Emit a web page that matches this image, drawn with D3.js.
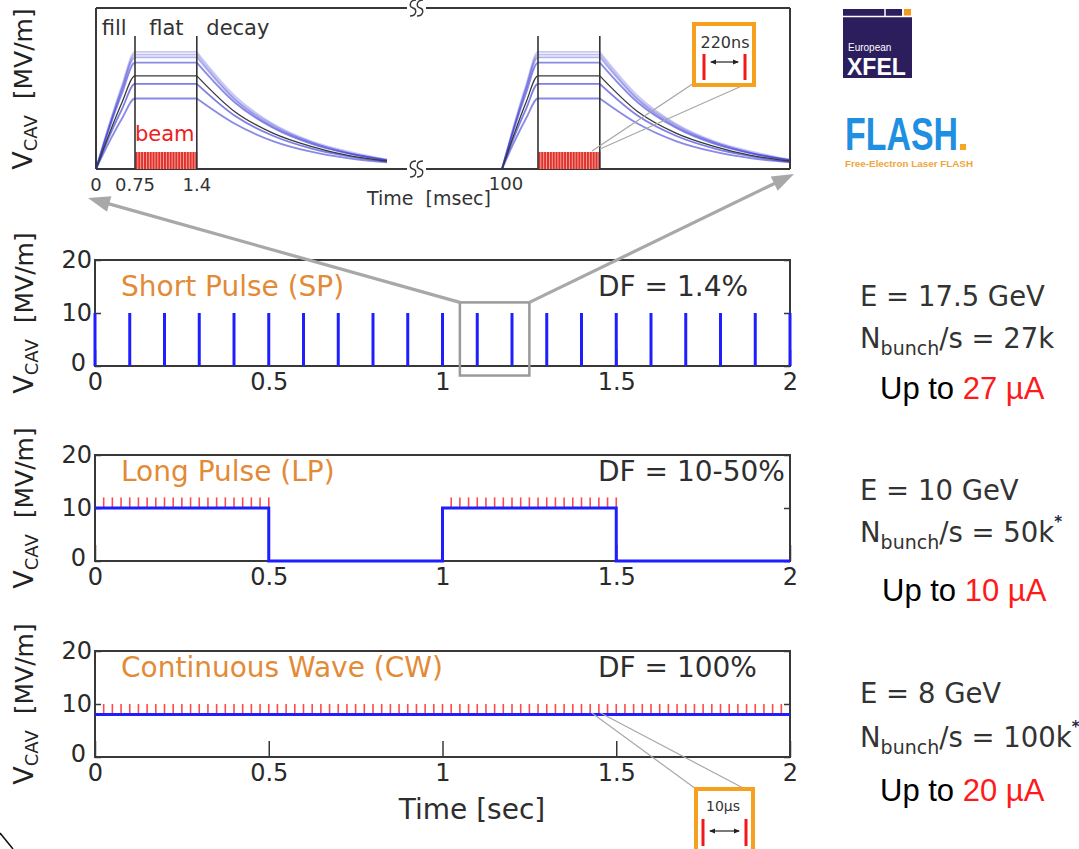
<!DOCTYPE html>
<html>
<head>
<meta charset="utf-8">
<script src="https://cdn.jsdelivr.net/npm/d3@7"></script>
<style>
  body { margin: 0; background: #fff; }
  svg { display: block; }
</style>
</head>
<body>
<svg id="svg1" width="1079" height="849"></svg>
<script>
// ---------- data ----------
// main panels: time axis [sec], cavity voltage [MV/m]
var xTicks = [0, 0.5, 1, 1.5, 2];
var xTickLabels = ['0', '0.5', '1', '1.5', '2'];
var yTicks = [0, 10, 20];

var spPulses = [0, 0.1, 0.2, 0.3, 0.4, 0.5, 0.6, 0.7, 0.8, 0.9, 1, 1.1, 1.2, 1.3, 1.4, 1.5, 1.6, 1.7, 1.8, 1.9, 2];
var spLevel = 10;

var lpTimes = [0, 0.5, 0.5, 1, 1, 1.5, 1.5, 2];
var lpValues = [10, 10, 0, 0, 10, 10, 0, 0];
var lpBunches = [0.025, 0.05, 0.075, 0.1, 0.125, 0.15, 0.175, 0.2, 0.225, 0.25,
  0.275, 0.3, 0.325, 0.35, 0.375, 0.4, 0.425, 0.45, 0.475, 0.5,
  1.025, 1.05, 1.075, 1.1, 1.125, 1.15, 1.175, 1.2, 1.225, 1.25,
  1.275, 1.3, 1.325, 1.35, 1.375, 1.4, 1.425, 1.45, 1.475, 1.5];
var lpBunchRange = [10, 12];

var cwTimes = [0, 2];
var cwValues = [8, 8];
var cwBunches = [0.025, 0.05, 0.075, 0.1, 0.125, 0.15, 0.175, 0.2, 0.225, 0.25,
  0.275, 0.3, 0.325, 0.35, 0.375, 0.4, 0.425, 0.45, 0.475, 0.5,
  0.525, 0.55, 0.575, 0.6, 0.625, 0.65, 0.675, 0.7, 0.725, 0.75,
  0.775, 0.8, 0.825, 0.85, 0.875, 0.9, 0.925, 0.95, 0.975, 1,
  1.025, 1.05, 1.075, 1.1, 1.125, 1.15, 1.175, 1.2, 1.225, 1.25,
  1.275, 1.3, 1.325, 1.35, 1.375, 1.4, 1.425, 1.45, 1.475, 1.5,
  1.525, 1.55, 1.575, 1.6, 1.625, 1.65, 1.675, 1.7, 1.725, 1.75,
  1.775, 1.8, 1.825, 1.85, 1.875, 1.9, 1.925, 1.95, 1.975];
var cwBunchRange = [8.2, 10];

var panelTitles = ['Short Pulse (SP)', 'Long Pulse (LP)', 'Continuous Wave (CW)'];
var dutyFactors = ['DF = 1.4%', 'DF = 10-50%', 'DF = 100%'];
var energies = ['E = 17.5 GeV', 'E = 10 GeV', 'E = 8 GeV'];
var bunchRates = ['27k', '50k', '100k'];
var rateStars = [false, true, true];
var currents = ['27 µA', '10 µA', '20 µA'];

// top panel: time [msec], relative cavity voltage
var pulseStarts = [0, 100];
var fillTimes = [0, 0.25, 0.5, 0.75];
var flatEnd = 1.4;
var decayTimes = [1.4, 1.8, 2.2, 2.6, 3.0, 3.4];
var blueFill = [
  [0, 0.33, 0.63, 0.88],
  [0, 0.32, 0.61, 0.86],
  [0, 0.31, 0.60, 0.84],
  [0, 0.30, 0.57, 0.80],
  [0, 0.24, 0.45, 0.64],
  [0, 0.20, 0.38, 0.53]
];
var blueDecay = [
  [0.88, 0.55, 0.34, 0.21, 0.13, 0.07],
  [0.86, 0.53, 0.33, 0.20, 0.12, 0.07],
  [0.84, 0.52, 0.32, 0.20, 0.12, 0.065],
  [0.80, 0.50, 0.31, 0.19, 0.115, 0.065],
  [0.64, 0.40, 0.25, 0.155, 0.095, 0.055],
  [0.53, 0.34, 0.21, 0.13, 0.08, 0.05]
];
var blueAlpha = [0.25, 0.3, 0.35, 0.55, 0.6, 0.55];
var blackFill = [0, 0.26, 0.50, 0.70];
var blackDecay = [0.70, 0.43, 0.27, 0.17, 0.10, 0.06];
var beamBunches = [0.765, 0.795, 0.825, 0.855, 0.885, 0.915, 0.945, 0.975, 1.005, 1.035, 1.065,
  1.095, 1.125, 1.155, 1.185, 1.215, 1.245, 1.275, 1.305, 1.335, 1.365, 1.395];
var beamLevel = 0.128;
var topTicks = [0, 0.75, 1.4];
var topTickLabels = ['0', '0.75', '1.4'];
var phaseLabels = ['fill', 'flat', 'decay'];
var phaseTimes = [0.11, 0.9, 1.5];

// ---------- setup ----------
var svg = d3.select('#svg1');
var plotFont = '"DejaVu Sans", sans-serif';
var arialFont = '"Liberation Sans", Arial, sans-serif';
var frameColor = '#383838';
var blue = '#1e1eff';
var red = '#ff4a4a';
var orange = '#f5a11f';
var grey = '#a8a8a8';

svg.append('rect').attr('width', 1079).attr('height', 849).attr('fill', '#fff');

var xMain = d3.scaleLinear().domain([0, 2]).range([95, 790]);
var panelTops = [260, 455, 651];
var panelH = 106;
var titleBase = [36, 26, 26];

function yLabel(cx, cy) {
  var t = svg.append('text')
    .attr('transform', 'translate(' + cx + ',' + cy + ') rotate(-90)')
    .attr('text-anchor', 'middle')
    .attr('font-family', plotFont)
    .attr('fill', '#222');
  t.append('tspan').attr('font-size', 27).text('V');
  t.append('tspan').attr('font-size', 18).attr('dy', 5).text('CAV');
  t.append('tspan').attr('font-size', 25).attr('dy', -5).text('\u00a0\u00a0[MV/m]');
}

// ---------- top zoomed panel ----------
var xTop = d3.scaleLinear()
  .domain([0, 0.75, 3.4, 100, 100.75, 103.4])
  .range([96, 135, 387, 502, 538, 790]);
var yTop = d3.scaleLinear().domain([0, 1]).range([169, 36]);
var topG = svg.append('g');
var breakX = 416;
var frameTop = 8, frameBottom = 169;

// frame with axis break
[[xTop(0), breakX - 9], [breakX + 10, xTop(103.4)]].forEach(function(seg) {
  [frameTop, frameBottom].forEach(function(yy) {
    topG.append('line')
      .attr('x1', seg[0]).attr('x2', seg[1])
      .attr('y1', yy).attr('y2', yy)
      .attr('stroke', frameColor).attr('stroke-width', 2);
  });
});
[xTop(0), xTop(103.4)].forEach(function(xx) {
  topG.append('line')
    .attr('x1', xx).attr('x2', xx)
    .attr('y1', frameTop).attr('y2', frameBottom)
    .attr('stroke', frameColor).attr('stroke-width', 2);
});
[frameTop, frameBottom].forEach(function(yy) {
  [-3, 4].forEach(function(off) {
    var x = breakX + off;
    topG.append('path')
      .attr('d', 'M' + (x + 3) + ',' + (yy - 8) + ' C' + (x - 4) + ',' + (yy - 8) + ' ' + (x - 4) + ',' + (yy - 1) + ' ' + x + ',' + yy +
        ' C' + (x + 4) + ',' + (yy + 1) + ' ' + (x + 4) + ',' + (yy + 8) + ' ' + (x - 3) + ',' + (yy + 8))
      .attr('fill', 'none').attr('stroke', frameColor).attr('stroke-width', 1.4);
  });
});

var curveLine = d3.line()
  .x(function(d) { return xTop(d[0]); })
  .y(function(d) { return yTop(d[1]); })
  .curve(d3.curveMonotoneX);

pulseStarts.forEach(function(t0) {
  // beam bunch train
  topG.append('rect')
    .attr('x', xTop(t0 + 0.75)).attr('y', yTop(beamLevel))
    .attr('width', xTop(t0 + flatEnd) - xTop(t0 + 0.75))
    .attr('height', yTop(0) - yTop(beamLevel))
    .attr('fill', '#f6b3ad');
  topG.selectAll(null)
    .data(beamBunches)
    .enter().append('line')
    .attr('x1', function(d) { return xTop(t0 + d); })
    .attr('x2', function(d) { return xTop(t0 + d); })
    .attr('y1', yTop(beamLevel)).attr('y2', yTop(0))
    .attr('stroke', '#e2302a').attr('stroke-width', 2);

  function drawCurve(fill, decay, color, width) {
    var rise = fillTimes.map(function(t, j) { return [t0 + t, fill[j]]; });
    rise.push([t0 + flatEnd, fill[fill.length - 1]]);
    var fall = decayTimes.map(function(t, j) { return [t0 + t, decay[j]]; });
    [rise, fall].forEach(function(pts) {
      topG.append('path')
        .attr('d', curveLine(pts))
        .attr('fill', 'none')
        .attr('stroke', color)
        .attr('stroke-width', width);
    });
  }
  blueFill.forEach(function(f, i) {
    drawCurve(f, blueDecay[i], 'rgba(40,40,210,' + blueAlpha[i] + ')', 1.8);
  });
  drawCurve(blackFill, blackDecay, '#3a3a3a', 1.3);

  // fill / flat boundaries
  [0.75, flatEnd].forEach(function(t) {
    topG.append('line')
      .attr('x1', xTop(t0 + t)).attr('x2', xTop(t0 + t))
      .attr('y1', yTop(1)).attr('y2', yTop(0))
      .attr('stroke', '#333').attr('stroke-width', 1.6);
  });
});

topG.selectAll(null)
  .data(phaseLabels)
  .enter().append('text')
  .attr('x', function(d, i) { return xTop(phaseTimes[i]); })
  .attr('y', 35)
  .attr('font-family', plotFont).attr('font-size', 21).attr('fill', '#333')
  .text(function(d) { return d; });

topG.append('text')
  .attr('x', xTop(0.75)).attr('y', 141)
  .attr('font-family', plotFont).attr('font-size', 21).attr('fill', '#ee2020')
  .text('beam');

topG.selectAll(null)
  .data(topTicks)
  .enter().append('text')
  .attr('x', function(d) { return xTop(d); })
  .attr('y', 191)
  .attr('text-anchor', 'middle')
  .attr('font-family', plotFont).attr('font-size', 18).attr('fill', '#333')
  .text(function(d, i) { return topTickLabels[i]; });

topG.append('text')
  .attr('x', 429).attr('y', 205)
  .attr('text-anchor', 'middle')
  .attr('font-family', plotFont).attr('font-size', 19).attr('fill', '#333')
  .text('Time\u00a0\u00a0[msec]');
topG.append('text')
  .attr('x', xTop(100) + 4).attr('y', 190)
  .attr('text-anchor', 'middle')
  .attr('font-family', plotFont).attr('font-size', 18).attr('fill', '#333')
  .text('100');

yLabel(32, 89);

// 220ns inset
var inset1 = topG.append('g');
inset1.append('line').attr('x1', 592).attr('y1', 151).attr('x2', 694).attr('y2', 83)
  .attr('stroke', grey).attr('stroke-width', 1.3);
inset1.append('line').attr('x1', 600).attr('y1', 149).attr('x2', 744).attr('y2', 85)
  .attr('stroke', grey).attr('stroke-width', 1.3);
inset1.append('rect').attr('x', 694).attr('y', 24).attr('width', 60).attr('height', 61)
  .attr('fill', '#fff').attr('stroke', orange).attr('stroke-width', 4);
inset1.append('text').attr('x', 725).attr('y', 48).attr('text-anchor', 'middle')
  .attr('font-family', plotFont).attr('font-size', 16).attr('fill', '#333').text('220ns');

function insetBars(g, xa, xb, y1, y2, ya) {
  [xa, xb].forEach(function(x) {
    g.append('line').attr('x1', x).attr('x2', x).attr('y1', y1).attr('y2', y2)
      .attr('stroke', '#f01818').attr('stroke-width', 3);
  });
  g.append('line').attr('x1', xa + 7).attr('x2', xb - 7).attr('y1', ya).attr('y2', ya)
    .attr('stroke', '#222').attr('stroke-width', 1.2);
  [[xa + 6, 1], [xb - 6, -1]].forEach(function(h) {
    g.append('path')
      .attr('d', 'M' + h[0] + ',' + ya + ' l' + (6 * h[1]) + ',-2.5 l0,5 z')
      .attr('fill', '#222');
  });
}
insetBars(inset1, 704, 745, 54, 80, 62);

// ---------- main panels ----------
panelTops.forEach(function(top0, i) {
  var g = svg.append('g');
  var y = d3.scaleLinear().domain([0, 20]).range([top0 + panelH, top0]);

  g.append('rect')
    .attr('x', xMain(0)).attr('y', y(20))
    .attr('width', xMain(2) - xMain(0)).attr('height', y(0) - y(20))
    .attr('fill', 'none').attr('stroke', frameColor).attr('stroke-width', 2);

  var ax = g.append('g')
    .attr('transform', 'translate(0,' + y(0) + ')')
    .call(d3.axisBottom(xMain).tickValues(xTicks)
      .tickFormat(function(d, j) { return xTickLabels[j]; })
      .tickSizeInner(-16).tickSizeOuter(0).tickPadding(7));
  var ayl = g.append('g')
    .attr('transform', 'translate(' + xMain(0) + ',0)')
    .call(d3.axisLeft(y).tickValues(yTicks).tickSizeInner(-6).tickSizeOuter(0).tickPadding(3));
  var ayr = g.append('g')
    .attr('transform', 'translate(' + xMain(2) + ',0)')
    .call(d3.axisRight(y).tickValues(yTicks).tickSizeInner(-6).tickSizeOuter(0).tickFormat(''));
  [ax, ayl, ayr].forEach(function(a) {
    a.select('.domain').remove();
    a.selectAll('line').attr('stroke', frameColor).attr('stroke-width', 1.5);
    a.selectAll('text').attr('font-family', plotFont).attr('font-size', 24).attr('fill', '#2a2a2a');
  });
  // the y "0" sits just left of the x "0", as in the original layout
  ayl.selectAll('.tick').filter(function(d) { return d === 0; })
    .select('text').attr('x', -9).attr('dy', '0.2em');

  if (i === 0) {
    g.selectAll(null)
      .data(spPulses)
      .enter().append('line')
      .attr('x1', function(d) { return xMain(d); })
      .attr('x2', function(d) { return xMain(d); })
      .attr('y1', y(0)).attr('y2', y(spLevel))
      .attr('stroke', blue).attr('stroke-width', 3);
  } else {
    var times = i === 1 ? lpTimes : cwTimes;
    var vals = i === 1 ? lpValues : cwValues;
    var bunches = i === 1 ? lpBunches : cwBunches;
    var br = i === 1 ? lpBunchRange : cwBunchRange;
    g.selectAll(null)
      .data(bunches)
      .enter().append('line')
      .attr('x1', function(d) { return xMain(d); })
      .attr('x2', function(d) { return xMain(d); })
      .attr('y1', y(br[0])).attr('y2', y(br[1]))
      .attr('stroke', red).attr('stroke-width', 1.6);
    g.append('path')
      .attr('d', d3.line()
        .x(function(d) { return xMain(d); })
        .y(function(d, j) { return y(vals[j]); })(times))
      .attr('fill', 'none').attr('stroke', blue).attr('stroke-width', 3);
  }

  g.append('text')
    .attr('x', 121).attr('y', top0 + titleBase[i])
    .attr('font-family', plotFont).attr('font-size', 28).attr('fill', '#e38a36')
    .text(panelTitles[i]);
  g.append('text')
    .attr('x', 598).attr('y', top0 + titleBase[i])
    .attr('font-family', plotFont).attr('font-size', 28).attr('fill', '#2e2e2e')
    .text(dutyFactors[i]);

  yLabel(33, top0 + panelH / 2);
});

svg.append('text')
  .attr('x', 472).attr('y', 819)
  .attr('text-anchor', 'middle')
  .attr('font-family', plotFont).attr('font-size', 28).attr('fill', '#2e2e2e')
  .text('Time [sec]');

// ---------- right-side parameters ----------
var eBase = [306, 500, 703];
var nBase = [348, 542, 747];
var uBase = [399, 601, 801];
var uX = [880, 882, 880];
energies.forEach(function(e, i) {
  svg.append('text')
    .attr('x', 860).attr('y', eBase[i])
    .attr('font-family', plotFont).attr('font-size', 27.5).attr('fill', '#333')
    .text(e);
  var n = svg.append('text')
    .attr('x', 860).attr('y', nBase[i])
    .attr('font-family', plotFont).attr('font-size', 27.5).attr('fill', '#333');
  n.append('tspan').text('N');
  n.append('tspan').attr('font-size', 19).attr('dy', 7).text('bunch');
  n.append('tspan').attr('dy', -7).text('/s = ' + bunchRates[i]);
  if (rateStars[i]) {
    n.append('tspan').attr('font-size', 15).attr('font-weight', 'bold')
      .attr('dy', -15).attr('fill', '#1f2a4a').text('*');
  }
  var u = svg.append('text')
    .attr('x', uX[i]).attr('y', uBase[i])
    .attr('font-family', arialFont).attr('font-size', 31);
  u.append('tspan').attr('fill', '#000').text('Up to ');
  u.append('tspan').attr('fill', '#ff1a1a').text(currents[i]);
});

// ---------- zoom markers ----------
var ySP = d3.scaleLinear().domain([0, 20]).range([panelTops[0] + panelH, panelTops[0]]);
var boxL = xMain(1.05), boxR = xMain(1.25), boxT = ySP(12), boxB = ySP(-1.8);
svg.append('rect')
  .attr('x', boxL).attr('y', boxT).attr('width', boxR - boxL).attr('height', boxB - boxT)
  .attr('fill', 'none').attr('stroke', '#9a9a9a').attr('stroke-width', 2.5);

function arrow(x1, y1, x2, y2) {
  var dx = x2 - x1, dy = y2 - y1, len = Math.sqrt(dx * dx + dy * dy);
  var ux = dx / len, uy = dy / len, head = 22, half = 8;
  var bx = x2 - ux * head, by = y2 - uy * head;
  svg.append('line').attr('x1', x1).attr('y1', y1).attr('x2', bx + ux * 2).attr('y2', by + uy * 2)
    .attr('stroke', grey).attr('stroke-width', 3.2);
  svg.append('path')
    .attr('d', 'M' + x2 + ',' + y2 + ' L' + (bx - uy * half) + ',' + (by + ux * half) +
      ' L' + (bx + uy * half) + ',' + (by - ux * half) + ' Z')
    .attr('fill', grey);
}
arrow(boxL, boxT, 88, 198);
arrow(boxR, boxT, 794, 174);

// 10us inset
var inset2 = svg.append('g');
inset2.append('line').attr('x1', xMain(1.43)).attr('y1', 713).attr('x2', 696).attr('y2', 789)
  .attr('stroke', grey).attr('stroke-width', 1.2);
inset2.append('line').attr('x1', xMain(1.455)).attr('y1', 713).attr('x2', 745).attr('y2', 789)
  .attr('stroke', grey).attr('stroke-width', 1.2);
inset2.append('rect').attr('x', 696).attr('y', 789).attr('width', 57).attr('height', 70)
  .attr('fill', '#fff').attr('stroke', orange).attr('stroke-width', 4);
inset2.append('text').attr('x', 723).attr('y', 811).attr('text-anchor', 'middle')
  .attr('font-family', plotFont).attr('font-size', 14).attr('fill', '#333').text('10µs');
insetBars(inset2, 703, 746, 819, 846, 831);

// ---------- logos ----------
var logo = svg.append('g');
logo.append('rect').attr('x', 843).attr('y', 9).attr('width', 69).attr('height', 69).attr('fill', '#2c1d5c');
logo.append('line').attr('x1', 843).attr('x2', 912).attr('y1', 16.5).attr('y2', 16.5)
  .attr('stroke', '#fff').attr('stroke-width', 1.5);
logo.append('line').attr('x1', 885).attr('x2', 885).attr('y1', 9).attr('y2', 16)
  .attr('stroke', '#fff').attr('stroke-width', 1.5);
logo.append('rect').attr('x', 902).attr('y', 9).attr('width', 10).attr('height', 7).attr('fill', '#fff');
logo.append('rect').attr('x', 904).attr('y', 9).attr('width', 7).attr('height', 6.5).attr('fill', '#f39a1c');
logo.append('text').attr('x', 848).attr('y', 51)
  .attr('font-family', arialFont).attr('font-size', 10).attr('fill', '#fff').text('European');
logo.append('text').attr('x', 847).attr('y', 75)
  .attr('font-family', arialFont).attr('font-size', 23).attr('font-weight', 'bold').attr('fill', '#fff').text('XFEL');

logo.append('text').attr('x', 845).attr('y', 150)
  .attr('font-family', arialFont).attr('font-size', 47).attr('font-weight', 'bold')
  .attr('fill', '#1e8fe1').attr('textLength', 113).attr('lengthAdjust', 'spacingAndGlyphs')
  .text('FLASH');
logo.append('rect').attr('x', 960).attr('y', 144).attr('width', 6).attr('height', 6).attr('fill', '#f5a623');
logo.append('text').attr('x', 845).attr('y', 167)
  .attr('font-family', arialFont).attr('font-size', 9).attr('font-weight', 'bold')
  .attr('fill', '#f0a53a').attr('textLength', 128).attr('lengthAdjust', 'spacingAndGlyphs')
  .text('Free-Electron Laser FLASH');

// corner mark
svg.append('line').attr('x1', 0).attr('y1', 833).attr('x2', 13).attr('y2', 849)
  .attr('stroke', '#111').attr('stroke-width', 1.5);
</script>
</body>
</html>
